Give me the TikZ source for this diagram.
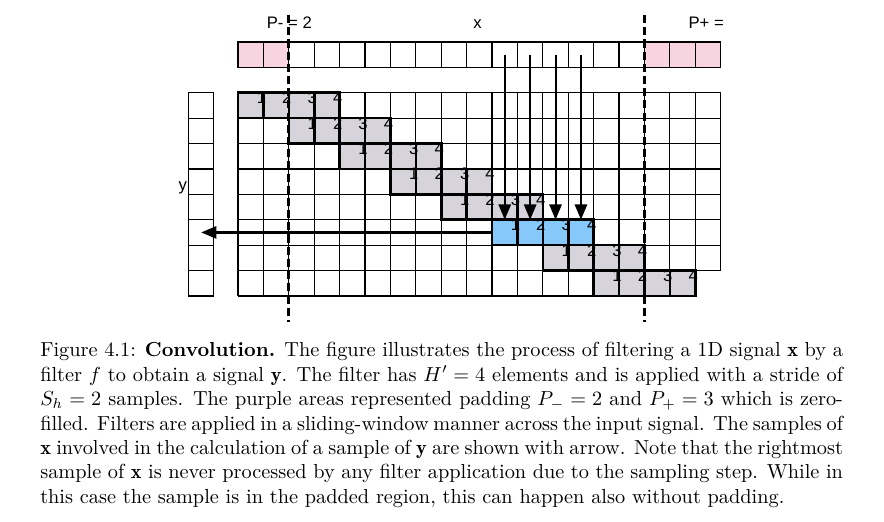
\documentclass[tikz,border=0pt]{standalone}
\usepackage{amsmath,amssymb}
\usepackage{fontspec}
\newfontfamily\diagfont{Liberation Sans}
\usepackage{tikz}
\usetikzlibrary{positioning,arrows.meta}
\usepackage{xcolor}
\definecolor{padpink}{RGB}{248,211,224}
\definecolor{filtgray}{RGB}{214,212,218}
\definecolor{filtblue}{RGB}{135,200,250}

\begin{document}
\begin{tikzpicture}[x=12.5pt,y=12.5pt,>={Triangle[length=7.5pt,width=6pt]},
  cell/.style={draw,line width=0.6pt,minimum size=12.5pt,inner sep=0pt,outer sep=0pt},
  fcell/.style={draw,line width=1.3pt,minimum size=12.5pt,inner sep=0pt,outer sep=0pt},
  lbl/.style={font=\diagfont\fontsize{8.2}{9}\selectfont,inner sep=0pt},
  padline/.style={dash pattern=on 4pt off 2pt,line width=1.5pt}]
\useasboundingbox (-9.37,-8.86) rectangle (25.43,11.65);
\foreach \i in {2,...,15}
  \node[cell] (x\i) at (\i+0.5,9.5) {};
\foreach \i in {0,1,16,17,18}
  \node[cell,fill=padpink] (x\i) at (\i+0.5,9.5) {};
\foreach \j in {0,...,7}
  \node[cell] (y\j) at (-1.45,7.5-\j) {};
\draw[line width=0.6pt,step=12.5pt] (0,1) grid (19,8);
\draw[line width=0.6pt,step=12.5pt] (0,0) grid (18,1);
\foreach \r in {0,...,7}
  \foreach \k in {1,...,4}{
    \ifnum\r=5 \def\fc{filtblue}\else\def\fc{filtgray}\fi
    \node[fcell,fill=\fc] (c\r\k) at (2*\r+\k-0.5,7.5-\r) {};
  }
\foreach \r in {0,...,7}
  \foreach \k in {1,...,4}
    \node[lbl,anchor=base east] (n\r\k) at (2*\r+\k+0.12,7.57-\r) {\k};
\coordinate (pm0) at (2,11.06);
\coordinate (pm1) at (2,-1.02);
\coordinate (pp0) at (16,11.06);
\coordinate (pp1) at (16,-1.02);
\draw[padline] (pm0) -- (pm1);
\draw[padline] (pp0) -- (pp1);
\node[lbl,anchor=base west] (pminus) at (1.12,10.54) {P- = 2};
\node[lbl,anchor=base] (xlab) at (9.43,10.54) {x};
\node[lbl,anchor=base west] (pplus) at (17.72,10.54) {P+ =};
\node[lbl,anchor=base] (ylab) at (-2.17,4.15) {y};
\foreach \k in {1,...,4}{
  \pgfmathtruncatemacro\i{\k+9}
  \draw[->,line width=1pt] (x\i.center) -- (c5\k.north);
}
\draw[->,line width=1.1pt] (c51.west) -- (y5.center);
\node[anchor=base west,text width=395pt,align=justify,inner sep=0pt] (cap) at (-7.8,-2.40)
  {Figure 4.1: \textbf{Convolution.} The figure illustrates the process of filtering a 1D signal $\mathbf{x}$ by~a\linebreak
  filter $f$ to obtain a signal $\mathbf{y}$. The filter has $H'=4$ elements and is applied with a stride~of\linebreak
  $S_h=2$ samples. The purple areas represented padding $P_-=2$ and $P_+=3$ which is zero-\linebreak
  filled. Filters are applied in a sliding-window manner across the input signal. The samples~of\linebreak
  $\mathbf{x}$ involved in the calculation of a sample of $\mathbf{y}$ are shown with arrow. Note that the rightmost\linebreak
  sample of $\mathbf{x}$ is never processed by any filter application due to the sampling step. While~in\linebreak
  this case the sample is in the padded region, this can happen also without padding.};
\end{tikzpicture}
\end{document}
